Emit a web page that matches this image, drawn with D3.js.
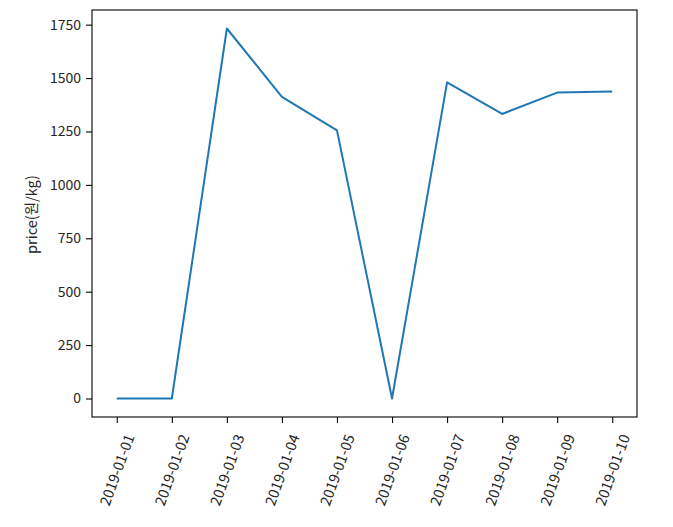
<!DOCTYPE html>
<html>
    <head>
        <script src="https://d3js.org/d3.v7.min.js"></script>
        <style>
            body { margin: 0; background: #fff; }
            text { font-family: "Noto Sans CJK KR", "Noto Sans", sans-serif; fill: #262626; }
        </style>
    </head>
    <body>
    <script>
        var w = 673;
        var h = 527;

        // values
        var dates = ['2019-01-01','2019-01-02','2019-01-03','2019-01-04','2019-01-05',
                     '2019-01-06','2019-01-07','2019-01-08','2019-01-09','2019-01-10'];
        var prices = [0, 0, 1732, 1412, 1255, 0, 1480, 1332, 1432, 1437];
        var yTicks = [0, 250, 500, 750, 1000, 1250, 1500, 1750];
        var yLabel = 'price(원/kg)';

        var mLeft = 92, mRight = 637, mTop = 10, mBottom = 417;

        var svg = d3.select('body').append('svg')
            .attr('width', w)
            .attr('height', h);

        var x = d3.scaleLinear()
            .domain([-0.45, dates.length - 1 + 0.45])
            .range([mLeft, mRight]);

        var ymax = d3.max(prices);
        var y = d3.scaleLinear()
            .domain([-0.05 * ymax, ymax * 1.05])
            .range([mBottom, mTop]);

        // y axis
        var yAxis = svg.append('g')
            .attr('transform', `translate(${mLeft},0)`)
            .call(d3.axisLeft(y).tickValues(yTicks).tickSize(6).tickPadding(5).tickFormat(d3.format('d')));
        yAxis.select('.domain').remove();
        yAxis.selectAll('.tick line').attr('stroke', '#000').attr('stroke-width', 1.1);
        yAxis.selectAll('.tick text').attr('font-size', '14px').attr('fill', '#262626');

        // x axis
        var xAxis = svg.append('g')
            .attr('transform', `translate(0,${mBottom})`)
            .call(d3.axisBottom(x).tickValues(d3.range(dates.length)).tickSize(6).tickFormat(function(i){ return dates[i] }));
        xAxis.select('.domain').remove();
        xAxis.selectAll('.tick line').attr('stroke', '#000').attr('stroke-width', 1.1);
        xAxis.selectAll('.tick text')
            .attr('font-size', '14.5px')
            .attr('fill', '#262626')
            .attr('text-anchor', 'end')
            .attr('dy', '0.35em')
            .attr('y', 0)
            .attr('transform', function(){
                var L = this.getComputedTextLength();
                return `translate(${0.171 * L},18) rotate(-70)`;
            });

        // frame
        svg.append('rect')
            .attr('x', mLeft).attr('y', mTop)
            .attr('width', mRight - mLeft).attr('height', mBottom - mTop)
            .attr('fill', 'none')
            .attr('stroke', '#000')
            .attr('stroke-width', 1.1);

        var lineFunc = d3.line()
            .x(function(d, i){ return x(i) })
            .y(function(d){ return y(d) });

        svg.append('path')
            .attr('d', lineFunc(prices))
            .attr('fill', 'none')
            .attr('stroke', '#1f77b4')
            .attr('stroke-width', 2)
            .attr('stroke-linejoin', 'round');

        svg.append('text')
            .attr('transform', `translate(37,${(mTop + mBottom) / 2 + 1}) rotate(-90)`)
            .attr('text-anchor', 'middle')
            .attr('font-size', '14.5px')
            .text(yLabel);
    </script>
    </body>
</html>
